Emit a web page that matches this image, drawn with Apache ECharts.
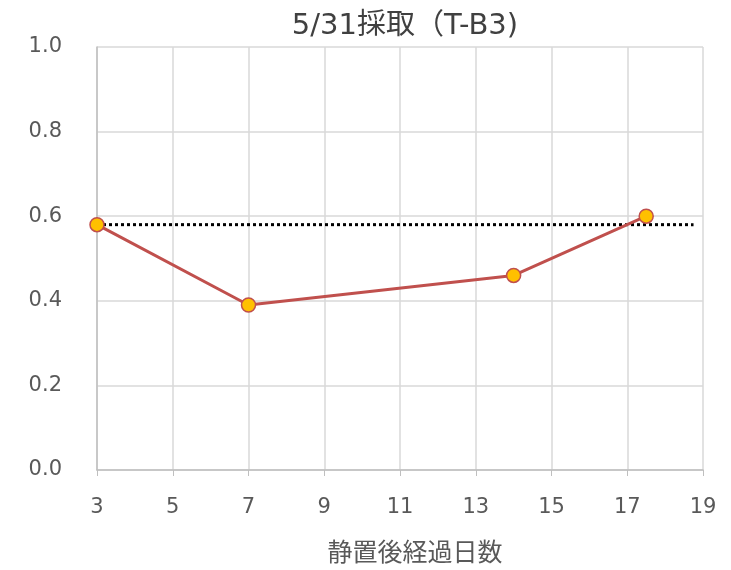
<!DOCTYPE html>
<html>
<head>
<meta charset="utf-8">
<script src="https://cdn.jsdelivr.net/npm/echarts@6/dist/echarts.min.js"></script>
<style>
  html, body { margin: 0; padding: 0; background: #fff; }
  #chart { width: 731px; height: 570px; }
</style>
</head>
<body>
<div id="chart"></div>
<script>
// measured values
const days = [3, 7, 14, 17.5]
const ratios = [0.58, 0.39, 0.46, 0.60]
const refLineX = [3, 18.75]
const refLineY = [0.58, 0.58]
const xTicks = [3, 19, 2]   // min, max, interval
const yTicks = [0, 1, 0.2]

const font = '"DejaVu Sans", "Noto Sans CJK JP", sans-serif'
const chart = echarts.init(document.getElementById('chart'))

chart.setOption({
  animation: false,
  title: {
    text: '5/31採取（T-B3)',
    left: 400,
    top: 7,
    textAlign: 'center',
    textStyle: { fontFamily: font, fontSize: 29, fontWeight: 'normal', color: '#404040' }
  },
  grid: { left: 97, right: 28, top: 47, bottom: 100, outerBoundsMode: 'none' },
  xAxis: {
    type: 'value',
    min: xTicks[0], max: xTicks[1], interval: xTicks[2],
    name: '静置後経過日数',
    nameLocation: 'middle',
    nameGap: 72,
    nameTextStyle: { fontFamily: font, fontSize: 25, color: '#595959', padding: [0, 0, 0, 30] },
    axisLine: { lineStyle: { color: '#bfbfbf', width: 1.5 } },
    axisTick: { show: true, length: 6, lineStyle: { color: '#bfbfbf' } },
    axisLabel: { fontFamily: font, fontSize: 21, color: '#595959', margin: 27 },
    splitLine: { show: true, lineStyle: { color: '#d9d9d9', width: 1.5 } }
  },
  yAxis: {
    type: 'value',
    min: yTicks[0], max: yTicks[1], interval: yTicks[2],
    axisLine: { show: true, lineStyle: { color: '#bfbfbf', width: 1.5 } },
    axisTick: { show: false },
    axisLabel: {
      fontFamily: font, fontSize: 21, color: '#595959', margin: 35,
      formatter: v => v.toFixed(1)
    },
    splitLine: { lineStyle: { color: '#d9d9d9', width: 1.5 } }
  },
  series: [
    {
      type: 'line',
      data: refLineX.map((x, i) => [x, refLineY[i]]),
      symbol: 'none',
      lineStyle: { color: '#000', width: 3, type: [3, 3] },
      z: 2
    },
    {
      type: 'line',
      data: days.map((d, i) => [d, ratios[i]]),
      symbol: 'circle',
      symbolSize: 14,
      lineStyle: { color: '#c0504d', width: 3 },
      itemStyle: { color: '#ffc000', borderColor: '#c0504d', borderWidth: 1.5 },
      z: 3
    }
  ]
})
</script>
</body>
</html>
